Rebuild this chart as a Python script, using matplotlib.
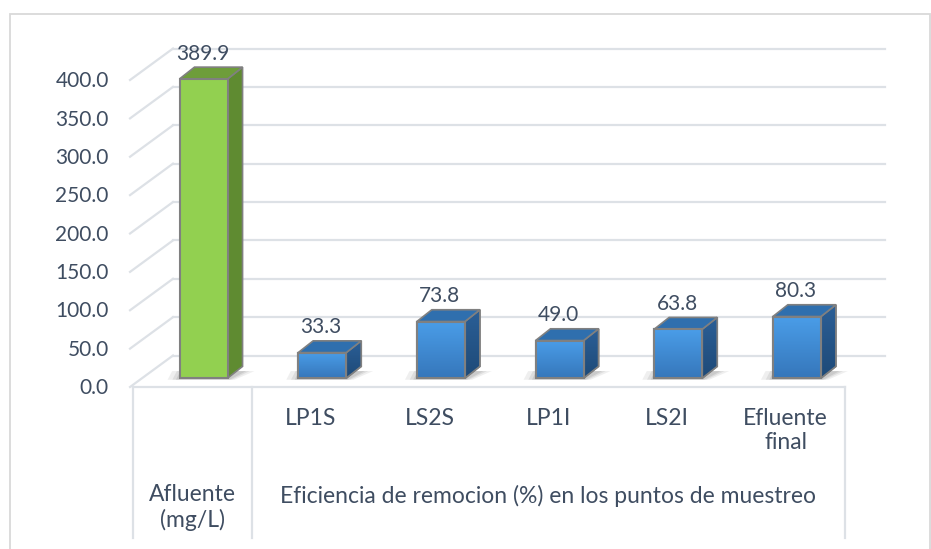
import numpy as np
import matplotlib
matplotlib.use("Agg")
import matplotlib.pyplot as plt
from matplotlib.patches import Polygon, Rectangle

# =========================================================
# DATA
# =========================================================
categories = ["Afluente", "LP1S", "LS2S", "LP1I", "LS2I", "Efluente\nfinal"]
values = [389.9, 33.3, 73.8, 49.0, 63.8, 80.3]
tick_labels = ["LP1S", "LS2S", "LP1I", "LS2I", "Efluente\nfinal"]
group_left = "Afluente\n(mg/L)"
group_right = "Eficiencia de remocion (%) en los puntos de muestreo"
y_ticks = [0, 50, 100, 150, 200, 250, 300, 350, 400]

# =========================================================
# STYLE
# =========================================================
plt.rcParams["font.family"] = ["Lato", "DejaVu Sans"]
TEXT = "#3F4D61"
GRID = "#DDE1E6"
EDGE = "#808080"
FS_NUM = 15
FS_TXT = 16.5

# depth of the 3d box (data units)
DX, DY = 0.337, 41.0
F0, F1 = 0.28, 0.655      # bar front / back as fraction of depth
BW = 0.405                # bar front width

fig = plt.figure(figsize=(9.31, 5.49), dpi=100)
ax = fig.add_axes([0, 0, 1, 1])
ax.set_xlim(-1.6208, 6.2247)
ax.set_ylim(-211.07, 504.23)
ax.axis("off")

# outer frame
fig.patches.append(Rectangle((9.5 / 931, -0.1), (930 - 9.5) / 931, (549 - 14) / 549 + 0.1,
                             transform=fig.transFigure, fill=False, ec="#D9D9D9", lw=1.3))

x0, x1 = -0.5, len(categories) - 0.5

# back wall gridlines + left wall diagonals
for v in y_ticks:
    ax.plot([x0 + DX, x1 + DX], [v + DY, v + DY], color=GRID, lw=1.6, zorder=1)
    ax.plot([x0 - 0.025, x0 + DX], [v, v + DY], color=GRID, lw=1.6, zorder=1)
    ax.text(-0.705, v - 1.5, f"{v:.1f}", ha="right", va="center", fontsize=FS_NUM, color=TEXT)

# floor front edge + category box
ax.plot([x0, x1], [0, 0], color=GRID, lw=1.6, zorder=1)
bottom = -197
for xv in [x0, 0.5, x1]:
    ax.plot([xv, xv], [0, bottom], color=GRID, lw=1.6, zorder=1)

# bars
fx = F0 * DX
fy = F0 * DY
ddx = (F1 - F0) * DX
ddy = (F1 - F0) * DY

for i, v in enumerate(values):
    green = i == 0
    front_top = "#92D050" if green else "#4A9DE8"
    front_bot = "#92D050" if green else "#3677BB"
    side_col = "#5F8B31" if green else "#24558A"
    top_col = "#6E9D3B" if green else "#2F6FAE"

    left = i - BW / 2 + fx
    right = i + BW / 2 + fx
    b = fy
    t = v + fy

    # soft shadow on the floor
    for k, a in [(0.10, 0.12), (0.06, 0.16), (0.03, 0.2)]:
        sh = Polygon([(left - k, b - 2), (right + k * 0.6, b - 2),
                      (right + ddx + k, b + ddy * 0.6), (left + ddx * 0.3 - k, b + ddy * 0.6)],
                     closed=True, fc="#7F7F7F", ec="none", alpha=a, zorder=2)
        ax.add_patch(sh)

    # side face
    side = Polygon([(right, b), (right + ddx, b + ddy), (right + ddx, t + ddy), (right, t)],
                   closed=True, fc=side_col, ec=EDGE, lw=1.2, zorder=3)
    ax.add_patch(side)
    if not green:
        grad = np.linspace(0, 1, 50).reshape(-1, 1)
        im = ax.imshow(grad, extent=[right, right + ddx, b, t + ddy], origin="lower",
                       cmap=matplotlib.colors.LinearSegmentedColormap.from_list(
                           "s", ["#1E4A78", "#2B5F97"]),
                       aspect="auto", zorder=3.1)
        im.set_clip_path(side)
        ax.add_patch(Polygon(side.get_xy(), closed=True, fill=False, ec=EDGE, lw=1.2, zorder=3.2))

    # top face
    top = Polygon([(left, t), (right, t), (right + ddx, t + ddy), (left + ddx, t + ddy)],
                  closed=True, fc=top_col, ec=EDGE, lw=1.2, zorder=3.3)
    ax.add_patch(top)

    # front face
    front = Rectangle((left, b), right - left, t - b, fc=front_top, ec=EDGE, lw=1.5, zorder=4)
    ax.add_patch(front)
    if not green:
        grad = np.linspace(0, 1, 50).reshape(-1, 1)
        im = ax.imshow(grad, extent=[left, right, b, t], origin="lower",
                       cmap=matplotlib.colors.LinearSegmentedColormap.from_list(
                           "f", [front_bot, front_top]),
                       aspect="auto", zorder=4.1)
        im.set_clip_path(front)
        ax.add_patch(Rectangle((left, b), right - left, t - b, fill=False, ec=EDGE, lw=1.5, zorder=4.2))

    # value label
    ax.text(i + fx * 0.9, v + 44.5, f"{v:.1f}", ha="center", va="center", fontsize=FS_NUM, color=TEXT, zorder=5)

# category labels
for i, lab in enumerate(tick_labels, start=1):
    ax.text(i, -27, lab, ha="center", va="top", fontsize=FS_TXT, color=TEXT, linespacing=1.2)

ax.text(0, -127, group_left, ha="center", va="top", fontsize=FS_TXT, color=TEXT, linespacing=1.2)
ax.text(3, -127, group_right, ha="center", va="top", fontsize=FS_TXT, color=TEXT)

ax.set_xlim(-1.6208, 6.2247)
ax.set_ylim(-211.07, 504.23)
fig.savefig("out.png", dpi=100)
